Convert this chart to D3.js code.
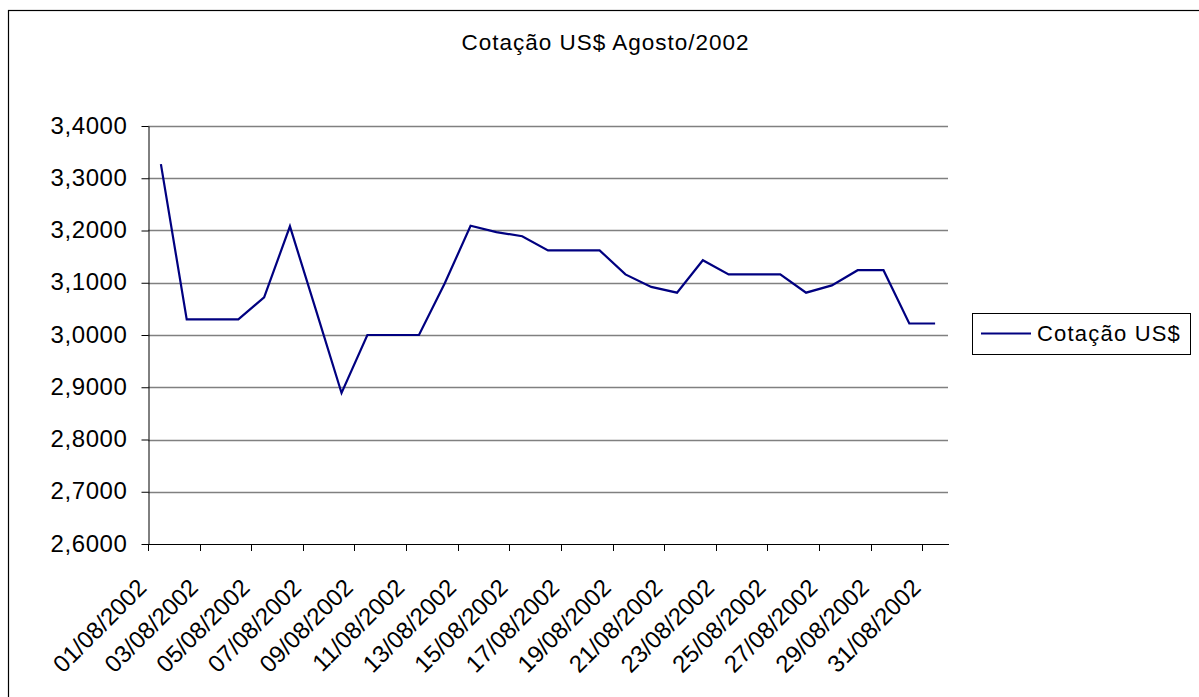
<!DOCTYPE html>
<html>
<head>
<meta charset="utf-8">
<script src="https://d3js.org/d3.v7.min.js"></script>
<style>
  body { margin: 0; background: #fff; }
  text { font-family: "Liberation Sans", Arial, sans-serif; fill: #000; }
</style>
</head>
<body>
<div id="chart"></div>
<script>
var dates = ["01/08/2002","02/08/2002","03/08/2002","04/08/2002","05/08/2002","06/08/2002",
  "07/08/2002","08/08/2002","09/08/2002","10/08/2002","11/08/2002","12/08/2002",
  "13/08/2002","14/08/2002","15/08/2002","16/08/2002","17/08/2002","18/08/2002",
  "19/08/2002","20/08/2002","21/08/2002","22/08/2002","23/08/2002","24/08/2002",
  "25/08/2002","26/08/2002","27/08/2002","28/08/2002","29/08/2002","30/08/2002","31/08/2002"];

var cotacao = [3.327, 3.030, 3.030, 3.030, 3.072, 3.208, 3.049, 2.889, 3.000, 3.000,
  3.000, 3.099, 3.209, 3.197, 3.189, 3.162, 3.162, 3.162, 3.116, 3.092,
  3.081, 3.143, 3.116, 3.116, 3.116, 3.081, 3.095, 3.124, 3.124, 3.022, 3.022];

var yTicks = [2.6, 2.7, 2.8, 2.9, 3.0, 3.1, 3.2, 3.3, 3.4];

var title = "Cotação US$ Agosto/2002",
    seriesName = "Cotação US$";

var width = 1199, height = 697;

var svg = d3.select("#chart")
  .append("svg")
  .attr("width", width)
  .attr("height", height);

// outer chart border (right and bottom are cut off in the original)
svg.append("rect")
  .attr("x", 8.5).attr("y", 10.5)
  .attr("width", 1250).attr("height", 750)
  .attr("fill", "none")
  .attr("stroke", "#000")
  .attr("stroke-width", 1.2);

var x = d3.scaleBand()
  .domain(dates)
  .range([148, 948])
  .paddingInner(0).paddingOuter(0);

var y = d3.scaleLinear()
  .domain([2.6, 3.4])
  .range([544, 126]);

var fmt = function(v) { return d3.format(".4f")(v).replace(".", ","); };

// gridlines
svg.append("g")
  .selectAll("line")
  .data(yTicks.slice(1))
  .enter().append("line")
  .attr("x1", 148).attr("x2", 948)
  .attr("y1", function(d) { return Math.round(y(d)) + 0.5; })
  .attr("y2", function(d) { return Math.round(y(d)) + 0.5; })
  .attr("stroke", "#808080")
  .attr("stroke-width", 1.3);

// y axis
var yAxis = svg.append("g")
  .attr("transform", "translate(148.5,0)")
  .call(d3.axisLeft(y).tickValues(yTicks).tickFormat(fmt).tickSize(7).tickPadding(14).tickSizeOuter(0));
yAxis.select(".domain").attr("stroke", "#000");
yAxis.selectAll(".tick line").attr("stroke", "#000");
yAxis.selectAll(".tick text")
  .style("font-size", "24px")
  .style("letter-spacing", "0.6px")
  .attr("dy", "0.3em");

// x axis
var xg = svg.append("g");
xg.append("line")
  .attr("x1", 148).attr("x2", 949)
  .attr("y1", 544.5).attr("y2", 544.5)
  .attr("stroke", "#000");

var labelled = dates.filter(function(d, i) { return i % 2 === 0; });

xg.selectAll(".xtick")
  .data(labelled)
  .enter().append("line")
  .attr("class", "xtick")
  .attr("x1", function(d) { return Math.round(x(d)) + 0.5; })
  .attr("x2", function(d) { return Math.round(x(d)) + 0.5; })
  .attr("y1", 544).attr("y2", 551)
  .attr("stroke", "#000");

xg.selectAll(".xlabel")
  .data(labelled)
  .enter().append("text")
  .attr("class", "xlabel")
  .attr("text-anchor", "end")
  .style("font-size", "24px")
  .attr("transform", function(d) {
    return "translate(" + (x(d) + x.bandwidth() / 2 - 13) + ",589) rotate(-45)";
  })
  .text(function(d) { return d; });

// series line
var line = d3.line()
  .x(function(d, i) { return x(dates[i]) + x.bandwidth() / 2; })
  .y(function(d) { return y(d); });

svg.append("path")
  .datum(cotacao)
  .attr("d", line)
  .attr("fill", "none")
  .attr("stroke", "#000080")
  .attr("stroke-width", 2.2)
  .attr("stroke-linejoin", "miter");

// title
svg.append("text")
  .attr("x", 605.5).attr("y", 49.5)
  .attr("text-anchor", "middle")
  .style("font-size", "22.5px")
  .style("letter-spacing", "1px")
  .text(title);

// legend
var legend = svg.append("g");
legend.append("rect")
  .attr("x", 972.5).attr("y", 313.5)
  .attr("width", 218).attr("height", 41)
  .attr("fill", "#fff")
  .attr("stroke", "#000");
legend.append("line")
  .attr("x1", 981).attr("x2", 1031)
  .attr("y1", 333.5).attr("y2", 333.5)
  .attr("stroke", "#000080")
  .attr("stroke-width", 2.2);
legend.append("text")
  .attr("x", 1037).attr("y", 341)
  .style("font-size", "22px")
  .style("letter-spacing", "1.2px")
  .text(seriesName);
</script>
</body>
</html>
